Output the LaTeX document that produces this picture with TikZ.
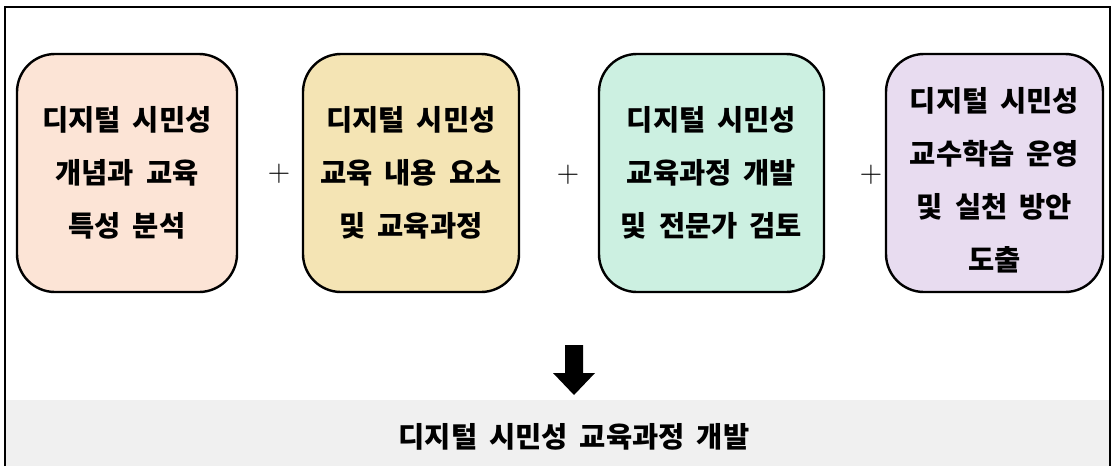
\documentclass[tikz,border=0pt]{standalone}
\usepackage{fontspec}
\newfontfamily\kr{Noto Sans CJK KR}
\definecolor{peach}{HTML}{FCE4D6}
\definecolor{sand}{HTML}{F4E4B4}
\definecolor{mint}{HTML}{CCF0E1}
\definecolor{lilac}{HTML}{E8DCF0}
\definecolor{band}{HTML}{F0F0F0}
\newcommand{\krtext}{\kr\bfseries\fontsize{28.5}{53}\selectfont\spaceskip=0.42em plus 0em minus 0em}
\tikzset{
  stagebox/.style={draw=black, line width=2.4pt, rounded corners=38pt,
    minimum height=238pt, align=center, inner sep=0pt,
    font=\krtext},
  plussign/.style={font=\fontsize{31}{31}\selectfont, inner sep=0pt},
}
\begin{document}
\begin{tikzpicture}[x=1pt,y=-1pt]
\useasboundingbox (0,0) rectangle (1115,466);
\fill[white] (0,0) rectangle (1115,466);
% bottom band
\fill[band] (5,400) rectangle (1110,466);
\node[font=\krtext, inner sep=0pt] (result) at (574,437) {디지털 시민성 교육과정 개발};
% frame
\draw[line width=2pt] (5,466) -- (5,7) -- (1110,7) -- (1110,466);
% boxes
\node[stagebox, fill=peach, minimum width=220pt] (b1) at (127,173) {디지털 시민성\\개념과 교육\\특성 분석};
\node[stagebox, fill=sand, minimum width=216pt] (b2) at (411,173) {디지털 시민성\\교육 내용 요소\\및 교육과정};
\node[stagebox, fill=mint, minimum width=225pt] (b3) at (711.5,173) {디지털 시민성\\교육과정 개발\\및 전문가 검토};
\node[stagebox, fill=lilac, minimum width=217pt] (b4) at (994.5,173) {\\[-14pt]디지털 시민성\\교수학습 운영\\및 실천 방안\\도출};
% plus signs
\node[plussign] (p1) at (279,174) {+};
\node[plussign] (p2) at (568,175) {+};
\node[plussign] (p3) at (871,175) {+};
% block arrow
\fill[black] (565,345) -- (583,345) -- (583,373) -- (595,373) -- (574,395) -- (553,373) -- (565,373) -- cycle;
\end{tikzpicture}
\end{document}
